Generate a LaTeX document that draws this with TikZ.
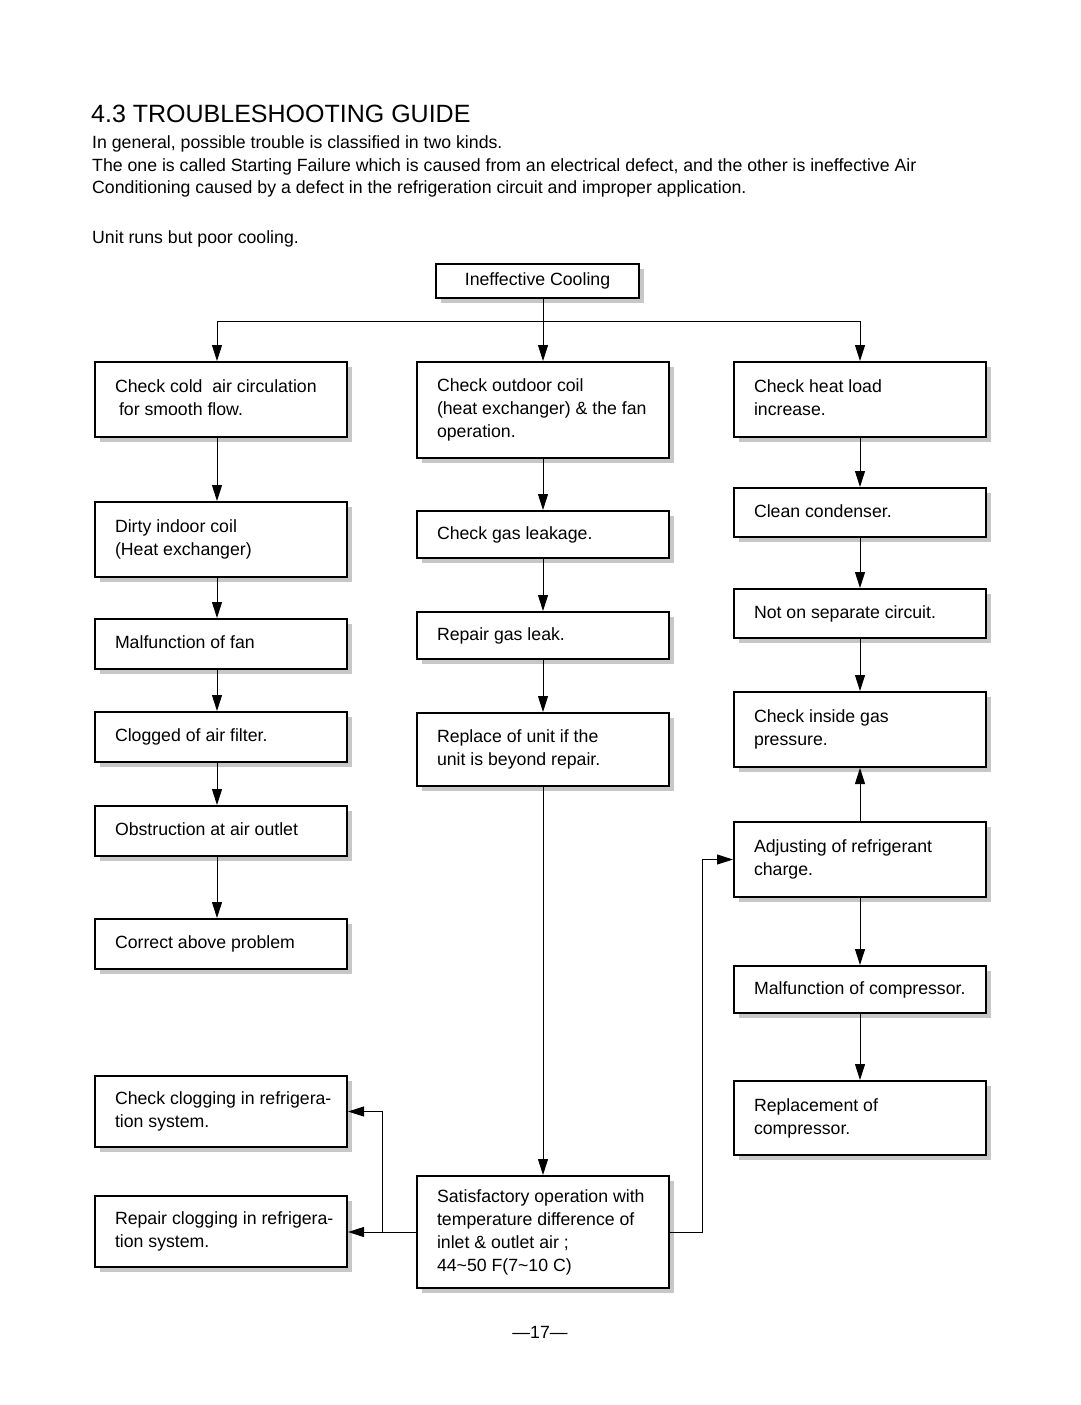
\documentclass[tikz,border=0pt]{standalone}
\usepackage{fontspec}
\setmainfont{Liberation Sans}
\usetikzlibrary{arrows.meta,shadows}
\newcommand\bxnode[7][]{%
 \pgfmathsetmacro\mybw{#5-#3}\pgfmathsetmacro\mybh{#6-#4}%
 \pgfmathsetmacro\mytw{#5-#3-40}%
 \pgfmathsetmacro\mycx{(#3+#5)/2}\pgfmathsetmacro\mycy{(#4+#6)/2}%
 \node[bx, minimum height=\mybh pt, minimum width=\mybw pt,#1] (#2) at (\mycx,\mycy)
   {\hbox to \mytw pt{\begin{tabular}{@{}l@{}}#7\end{tabular}\hss}};}
\begin{document}
\begin{tikzpicture}[x=1pt,y=-1pt,
  bx/.style={draw, line width=2pt, fill=white, inner xsep=20pt, inner ysep=0pt,
    font=\fontsize{17.7}{23}\selectfont,
    drop shadow={shadow xshift=5pt, shadow yshift=-5pt, fill=black!22, opacity=1}},
  arr/.style={line width=1pt, -{Triangle[length=16pt,width=10pt]}},
  ln/.style={line width=1pt},
  txt/.style={anchor=base west, inner sep=0pt, font=\fontsize{17.7}{23}\selectfont},
]
\useasboundingbox (0,0) rectangle (1080,1405);
\node[anchor=base west, inner sep=0pt, font=\fontsize{25}{30}\selectfont] (title) at (91,122) {4.3 TROUBLESHOOTING GUIDE};
\node[txt] (p1) at (92,148) {In general, possible trouble is classified in two kinds.};
\node[txt] (p2) at (92,171) {The one is called Starting Failure which is caused from an electrical defect, and the other is ineffective Air};
\node[txt] (p3) at (92,193) {Conditioning caused by a defect in the refrigeration circuit and improper application.};
\node[txt] (p4) at (92,243) {Unit runs but poor cooling.};

\node[bx, minimum width=203pt, minimum height=34pt, inner xsep=0pt] (ic) at (537.5,281) {Ineffective Cooling};

\bxnode{l1}{95}{362}{347}{437}{Check cold\ \ air circulation\\\hspace*{4pt}for smooth flow.}
\bxnode{l2}{95}{502}{347}{577}{Dirty indoor coil\\(Heat exchanger)}
\bxnode{l3}{95}{619}{347}{669}{Malfunction of fan}
\bxnode{l4}{95}{712}{347}{762}{Clogged of air filter.}
\bxnode{l5}{95}{806}{347}{856}{Obstruction at air outlet}
\bxnode{l6}{95}{919}{347}{969}{Correct above problem}
\bxnode{l7}{95}{1076}{347}{1147}{Check clogging in refrigera-\\tion system.}
\bxnode{l8}{95}{1196}{347}{1267}{Repair clogging in refrigera-\\tion system.}

\bxnode{m1}{417}{362}{669}{458}{Check outdoor coil\\(heat exchanger) \& the fan\\operation.}
\bxnode{m2}{417}{511}{669}{558}{Check gas leakage.}
\bxnode{m3}{417}{612}{669}{659}{Repair gas leak.}
\bxnode{m4}{417}{713}{669}{786}{Replace of unit if the\\unit is beyond repair.}
\bxnode{m5}{417}{1176}{669}{1288}{Satisfactory operation with\\temperature difference of\\inlet \& outlet air ;\\44\textasciitilde50 F(7\textasciitilde10 C)}

\bxnode{r1}{734}{362}{986}{437}{Check heat load\\increase.}
\bxnode{r2}{734}{488}{986}{537}{Clean condenser.}
\bxnode{r3}{734}{589}{986}{638}{Not on separate circuit.}
\bxnode{r4}{734}{692}{986}{767}{Check inside gas\\pressure.}
\bxnode{r5}{734}{822}{986}{897}{Adjusting of refrigerant\\charge.}
\bxnode{r6}{734}{966}{986}{1013}{Malfunction of compressor.}
\bxnode{r7}{734}{1081}{986}{1155}{Replacement of\\compressor.}

\coordinate (lx) at (217,0);
\coordinate (br) at (543,321);
\coordinate (rv) at (702,0);
\coordinate (lv) at (382,0);

\draw[ln] (br -| lx) -- (br -| r1.north);
\draw[arr] (br -| lx) -- (l1.north -| lx);
\draw[arr] (ic.south -| m1.north) -- (m1.north);
\draw[arr] (br -| r1.north) -- (r1.north);

\draw[arr] (l1.south -| lx) -- (l2.north -| lx);
\draw[arr] (l2.south -| lx) -- (l3.north -| lx);
\draw[arr] (l3.south -| lx) -- (l4.north -| lx);
\draw[arr] (l4.south -| lx) -- (l5.north -| lx);
\draw[arr] (l5.south -| lx) -- (l6.north -| lx);

\draw[arr] (m1.south) -- (m2.north);
\draw[arr] (m2.south) -- (m3.north);
\draw[arr] (m3.south) -- (m4.north);
\draw[arr] (m4.south) -- (m5.north);

\draw[arr] (r1.south) -- (r2.north);
\draw[arr] (r2.south) -- (r3.north);
\draw[arr] (r3.south) -- (r4.north);
\draw[arr] (r5.north) -- (r4.south);
\draw[arr] (r5.south) -- (r6.north);
\draw[arr] (r6.south) -- (r7.north);

\draw[arr] (m5.east) -| (rv |- r5.west) -- (r5.west);
\draw[arr] (m5.west) -- (m5.west -| l8.east);
\draw[arr] (lv |- m5.west) |- (l7.east);

\node[anchor=base, inner sep=0pt, font=\fontsize{17.7}{23}\selectfont] (pg) at (540,1338) {—17—};
\end{tikzpicture}
\end{document}
